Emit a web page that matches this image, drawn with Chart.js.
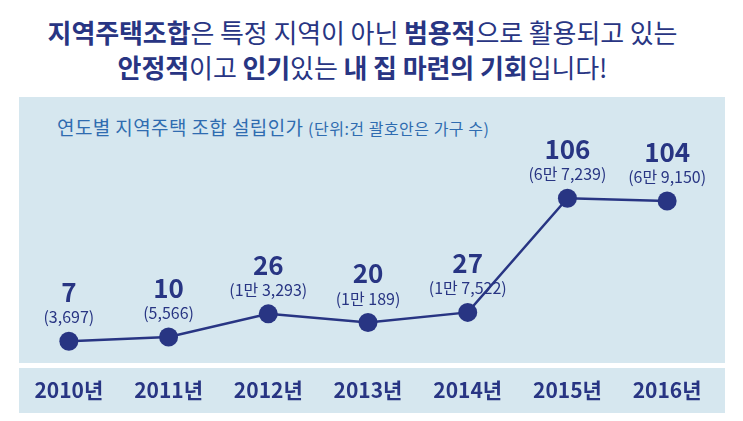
<!DOCTYPE html>
<html>
<head>
<meta charset="utf-8">
<script src="https://cdn.jsdelivr.net/npm/chart.js@4"></script>
<style>
  html, body { margin: 0; padding: 0; background: #ffffff; }
  body { width: 743px; height: 421px; position: relative; overflow: hidden; font-family: "Noto Sans CJK KR", sans-serif; }
  #headline { position: absolute; left: 0; top: 14px; width: 725px; text-align: center; color: #283583; font-size: 26px; line-height: 35px; letter-spacing: -0.1px; font-weight: 400; }
  #headline b { font-weight: 700; }
  #panelTop { position: absolute; left: 19px; top: 97px; width: 706px; height: 266px; background: #d6e7ef; }
  #panelBottom { position: absolute; left: 19px; top: 368px; width: 706px; height: 45px; background: #d6e7ef; }
  #subtitle { position: absolute; left: 57px; top: 114px; color: #2f6cb0; font-size: 19px; line-height: 26px; letter-spacing: 0.4px; white-space: nowrap; }
  #subtitle span { font-size: 16px; letter-spacing: 0.5px; }
  #wrap { position: absolute; left: 19px; top: 97px; width: 706px; height: 316px; }
</style>
</head>
<body>
<div id="headline"><b>지역주택조합</b>은 특정 지역이 아닌 <b>범용적</b>으로 활용되고 있는<br><b>안정적</b>이고 <b>인기</b>있는 <b>내 집 마련의 기회</b>입니다!</div>
<div id="panelTop"></div>
<div id="panelBottom"></div>
<div id="subtitle">연도별 지역주택 조합 설립인가 <span>(단위:건 괄호안은 가구 수)</span></div>
<div id="wrap"><canvas id="c" width="706" height="316"></canvas></div>
<script>
const years = ["2010년", "2011년", "2012년", "2013년", "2014년", "2015년", "2016년"];
const approvals = [7, 10, 26, 20, 27, 106, 104];
const households = ["(3,697)", "(5,566)", "(1만 3,293)", "(1만 189)", "(1만 7,522)", "(6만 7,239)", "(6만 9,150)"];

const NAVY = "#283583";

const labelPlugin = {
  id: "pointLabels",
  afterDatasetsDraw(chart) {
    const ctx = chart.ctx;
    const meta = chart.getDatasetMeta(0);
    ctx.save();
    ctx.fillStyle = NAVY;
    ctx.textAlign = "center";
    ctx.textBaseline = "middle";
    meta.data.forEach((pt, i) => {
      ctx.font = "bold 26px 'Noto Sans CJK KR'";
      ctx.fillText(String(approvals[i]), pt.x, pt.y - 49);
      ctx.font = "16px 'Noto Sans CJK KR'";
      ctx.fillText(households[i], pt.x, pt.y - 24);
    });
    ctx.restore();
  }
};

new Chart(document.getElementById("c"), {
  type: "line",
  data: {
    labels: years,
    datasets: [{
      data: approvals,
      borderColor: NAVY,
      borderWidth: 2.5,
      backgroundColor: NAVY,
      pointBackgroundColor: NAVY,
      pointBorderWidth: 0,
      pointRadius: 9.5,
      tension: 0,
      fill: false,
      clip: false
    }]
  },
  options: {
    responsive: false,
    animation: false,
    layout: { autoPadding: false, padding: { left: 0, right: 8, top: 0, bottom: 0 } },
    plugins: { legend: { display: false }, tooltip: { enabled: false }, title: { display: false } },
    scales: {
      x: {
        offset: true,
        grid: { display: false, drawTicks: false },
        border: { display: false },
        ticks: { color: NAVY, font: { family: "Noto Sans CJK KR", size: 21, weight: "bold" }, padding: 14, maxRotation: 0 },
        afterFit(scale) { scale.height = 50; scale.paddingLeft = 0; scale.paddingRight = 0; }
      },
      y: {
        display: false,
        min: -8,
        max: 176
      }
    }
  },
  plugins: [labelPlugin]
});
</script>
</body>
</html>
